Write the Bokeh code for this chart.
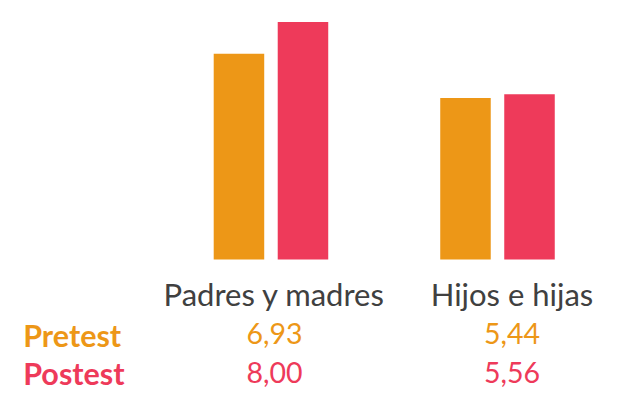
import numpy as np
from bokeh.plotting import figure
from bokeh.models import Range1d, ColumnDataSource
from bokeh.core.properties import value
from bokeh.embed import file_html
from bokeh.resources import INLINE

categories = ["Padres y madres", "Hijos e hijas"]
series = ["Pretest", "Postest"]
pretest = [6.93, 5.44]
postest = [8.00, 5.56]
pretest_labels = ["6,93", "5,44"]
postest_labels = ["8,00", "5,56"]

ORANGE = "#ED9717"
RED = "#EE3A5A"
GRAY = "#404040"
FONT = value("Lato")

W, H = 620, 400
X0, X1 = -0.694, 2.043
p = figure(width=W, height=H, output_backend="svg", toolbar_location=None,
           x_range=Range1d(X0, X1), y_range=Range1d(-4.747, 8.72),
           min_border=0, outline_line_color=None)
p.axis.visible = False
p.grid.visible = False
p.background_fill_color = None
p.border_fill_color = None

xs = np.arange(len(categories)) + 0.5
off = 0.1413
bw = 0.223
p.vbar(x=xs - off, top=pretest, bottom=0, width=bw, fill_color=ORANGE, line_color=None)
p.vbar(x=xs + off, top=postest, bottom=0, width=bw, fill_color=RED, line_color=None)

col_dx = [3.5, 14.5]  # pixel offsets of table columns
src = ColumnDataSource(dict(x=xs, y=[0, 0], cat=categories, pre=pretest_labels,
                            post=postest_labels, dx=col_dx))
p.text(x="x", y="y", text="cat", source=src, x_offset="dx", y_offset=34.5,
       text_font=FONT, text_font_size="31px", text_color=GRAY,
       text_align="center", text_baseline="alphabetic")
p.text(x="x", y="y", text="pre", source=src, x_offset="dx", y_offset=73.5,
       text_font=FONT, text_font_size="28.5px", text_color=ORANGE,
       text_align="center", text_baseline="alphabetic")
p.text(x="x", y="y", text="post", source=src, x_offset="dx", y_offset=112.5,
       text_font=FONT, text_font_size="28.5px", text_color=RED,
       text_align="center", text_baseline="alphabetic")

row_src = ColumnDataSource(dict(x=[X0, X0], y=[0, 0], t=series,
                                dy=[75.5, 113.5], c=[ORANGE, RED]))
p.text(x="x", y="y", text="t", source=row_src, x_offset=22.7, y_offset="dy",
       text_font=FONT, text_font_size="30.5px", text_font_style="bold",
       text_color="c", text_align="left", text_baseline="alphabetic")

open("out.html", "w").write(file_html(p, INLINE))
